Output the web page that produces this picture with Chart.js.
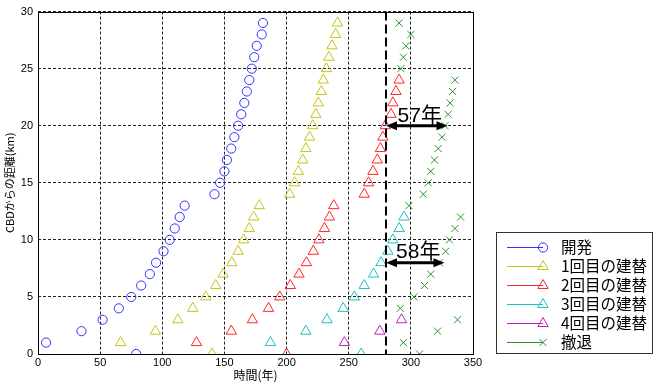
<!DOCTYPE html>
<html><head><meta charset="utf-8">
<script src="https://cdn.jsdelivr.net/npm/chart.js@4/dist/chart.umd.min.js"></script>
<style>html,body{margin:0;padding:0;background:#fff;overflow:hidden}</style>
</head><body>
<canvas id="c" width="654" height="385"></canvas>
<script>
// ---- data ----
const seriesNames = ['開発', '1回目の建替', '2回目の建替', '3回目の建替', '4回目の建替', '撤退'];
const kmDev = [0,1,2,3,4,5,6,7,8,9,10,11,12,13,14,15,16,17,18,19,20,21,22,23,24,25,26,27,28,29];
const devYears = [79,6.5,35,52,65,75,83,90,95,101,106,110,114,118,142,146.5,150,152,155.5,158,161,163.5,166,168,170,172,174,176,180,181];
const kmRe1 = [0,1,2,3,4,5,6,7,8,9,10,11,12,13,14,15,16,17,18,19,20,21,22,23,24,25,26,27,28,29];
const re1Years = [140,66.5,94.5,112.5,124.5,135,143,149,156,161,165.5,170,173.5,178,202.5,206.5,209.5,213,215.5,218.5,221,223.5,225.5,228,229.5,232,234,236.5,239.5,241];
const kmRe2 = [0,1,2,3,4,5,6,7,8,9,10,11,12,13,14,15,16,17,18,19,20,21,22,23,24];
const re2Years = [200,127.5,155.5,172.5,185.5,194.5,203,210,216,221.5,226,230.5,234.5,238,262.5,266,269.5,273,275.5,277.5,279.5,284,285.5,288,290.5];
const kmRe3 = [0,1,2,3,4,5,6,7,8,9,10,11,12];
const re3Years = [260,187,215.5,232.5,245.5,254.5,262.5,270,276,281.5,285.5,290.5,294.5];
const kmRe4 = [1,2,3];
const re4Years = [246.5,275,292.5];
const kmExit = [0,1,2,3,4,5,6,7,8,9,10,11,12,13,14,15,16,17,18,19,20,21,22,23,24,25,26,27,28,29];
const exitYears = [307,294,321.5,337.5,291.5,302.5,311,316,323,328,331,335.5,340,298.5,310,314,316,319,322,325,327.5,330,331.5,333.5,335.5,292,294,296,300,290.5];
const xTicks = [0,50,100,150,200,250,300,350];
const yTicks = [0,5,10,15,20,25,30];
const refLineYear = 280;
const arrowKm = [20, 8];
const arrowStart = [280, 280];
const arrowEnd = [329.5, 327];
const arrowLabels = ['57年', '58年'];

// ---- styles ----
const colors = ['#3333ff', '#c4c41c', '#ff2626', '#1fc0c0', '#c21fc2', '#2a962a'];
const shapes = ['circle', 'triangle', 'triangle', 'triangle', 'triangle', 'crossRot'];
const radii = [4.6, 6, 6, 6, 6, 5];
const FONT = "'Liberation Sans', 'Noto Sans CJK JP', sans-serif";
const JFONT = "'Noto Sans CJK JP', sans-serif";

const pairs = [[kmDev, devYears],[kmRe1, re1Years],[kmRe2, re2Years],[kmRe3, re3Years],[kmRe4, re4Years],[kmExit, exitYears]];
const datasets = pairs.map((p, i) => ({
  label: seriesNames[i],
  data: p[1].map((t, j) => ({x: t, y: p[0][j]})),
  showLine: false,
  pointStyle: shapes[i],
  pointRadius: radii[i],
  pointBorderWidth: 1,
  borderColor: colors[i],
  backgroundColor: 'rgba(0,0,0,0)',
  pointBackgroundColor: 'rgba(0,0,0,0)'
}));

function drawMarker(ctx, shape, x, y, r) {
  ctx.beginPath();
  if (shape === 'circle') {
    ctx.arc(x, y, r, 0, Math.PI * 2);
  } else if (shape === 'triangle') {
    ctx.moveTo(x, y - r);
    ctx.lineTo(x + r * Math.sin(2 * Math.PI / 3), y - r * Math.cos(2 * Math.PI / 3));
    ctx.lineTo(x + r * Math.sin(4 * Math.PI / 3), y - r * Math.cos(4 * Math.PI / 3));
    ctx.closePath();
  } else {
    const o = Math.cos(Math.PI / 4) * r;
    ctx.moveTo(x - o, y - o); ctx.lineTo(x + o, y + o);
    ctx.moveTo(x - o, y + o); ctx.lineTo(x + o, y - o);
  }
  ctx.stroke();
}

const overlay = {
  id: 'overlay',
  afterDatasetsDraw(chart) {
    const {ctx, chartArea: a, scales: {x, y}} = chart;
    ctx.save();
    const vx = Math.round(x.getPixelForValue(refLineYear));
    ctx.strokeStyle = '#000';
    ctx.lineWidth = 2;
    ctx.setLineDash([9, 4]);
    ctx.beginPath(); ctx.moveTo(vx, a.top); ctx.lineTo(vx, a.bottom); ctx.stroke();
    ctx.setLineDash([]);
    ctx.lineWidth = 1;
    ctx.strokeStyle = '#000';
    ctx.strokeRect(Math.round(a.left) + 0.5, Math.round(a.top) + 0.5, Math.round(a.right - a.left), Math.round(a.bottom - a.top));
    for (let i = 0; i < arrowKm.length; i++) {
      const py = y.getPixelForValue(arrowKm[i]);
      const x1 = x.getPixelForValue(arrowStart[i]);
      const x2 = x.getPixelForValue(arrowEnd[i]);
      const hl = 11, hw = 4.5;
      ctx.fillStyle = '#000';
      ctx.lineWidth = 3;
      ctx.beginPath(); ctx.moveTo(x1 + hl - 1, py); ctx.lineTo(x2 - hl + 1, py); ctx.stroke();
      ctx.beginPath(); ctx.moveTo(x1, py); ctx.lineTo(x1 + hl, py - hw); ctx.lineTo(x1 + hl, py + hw); ctx.closePath(); ctx.fill();
      ctx.beginPath(); ctx.moveTo(x2, py); ctx.lineTo(x2 - hl, py - hw); ctx.lineTo(x2 - hl, py + hw); ctx.closePath(); ctx.fill();
      ctx.font = "21px " + FONT;
      ctx.textAlign = 'center';
      ctx.textBaseline = 'middle';
      ctx.fillText(arrowLabels[i], (x1 + x2) / 2 + 3, py - 10);
    }
    ctx.restore();
  },
  afterDraw(chart) {
    const ctx = chart.ctx;
    ctx.save();
    ctx.fillStyle = '#fff';
    ctx.fillRect(496, 232, 157, 122);
    ctx.strokeStyle = '#333';
    ctx.lineWidth = 1;
    ctx.strokeRect(496.5, 232.5, 156, 121);
    const rowY0 = 247, rowH = 18.9;
    for (let i = 0; i < seriesNames.length; i++) {
      const ry = Math.round(rowY0 + i * rowH) + 0.5;
      ctx.strokeStyle = colors[i];
      ctx.lineWidth = 1;
      ctx.beginPath(); ctx.moveTo(507, ry); ctx.lineTo(543, ry); ctx.stroke();
      drawMarker(ctx, shapes[i], 543, ry, radii[i]);
      ctx.fillStyle = '#000';
      ctx.font = "15.5px " + JFONT;
      ctx.textAlign = 'left';
      ctx.textBaseline = 'middle';
      ctx.fillText(seriesNames[i], 561, ry);
    }
    ctx.restore();
  }
};

new Chart(document.getElementById('c'), {
  type: 'scatter',
  data: {datasets},
  options: {
    responsive: false,
    animation: false,
    devicePixelRatio: 1,
    layout: {padding: {top: 10, right: 181, left: 0, bottom: 0}},
    plugins: {legend: {display: false}, tooltip: {enabled: false}},
    scales: {
      x: {
        type: 'linear', min: 0, max: 350,
        afterBuildTicks(s) { s.ticks = xTicks.map(v => ({value: v})); },
        ticks: {color: '#000', font: {size: 11, family: FONT}, padding: 2, maxRotation: 0},
        grid: {color: '#222', lineWidth: 1, drawTicks: false},
        border: {display: false, dash: [3, 2]},
        title: {display: true, text: '時間(年)', color: '#000', font: {size: 12, family: JFONT}, padding: {top: 0, bottom: 2}},
        afterFit(s) { s.height = 31; }
      },
      y: {
        type: 'linear', min: 0, max: 30,
        afterBuildTicks(s) { s.ticks = yTicks.map(v => ({value: v})); },
        ticks: {color: '#000', font: {size: 11, family: FONT}, padding: 5},
        grid: {color: '#222', lineWidth: 1, drawTicks: false},
        border: {display: false, dash: [3, 2]},
        title: {display: true, text: 'CBDからの距離(km)', color: '#000', font: {size: 11, family: JFONT}, padding: {top: 3, bottom: 0}},
        afterFit(s) { s.width = 38; }
      }
    }
  },
  plugins: [overlay]
});
</script>
</body></html>
